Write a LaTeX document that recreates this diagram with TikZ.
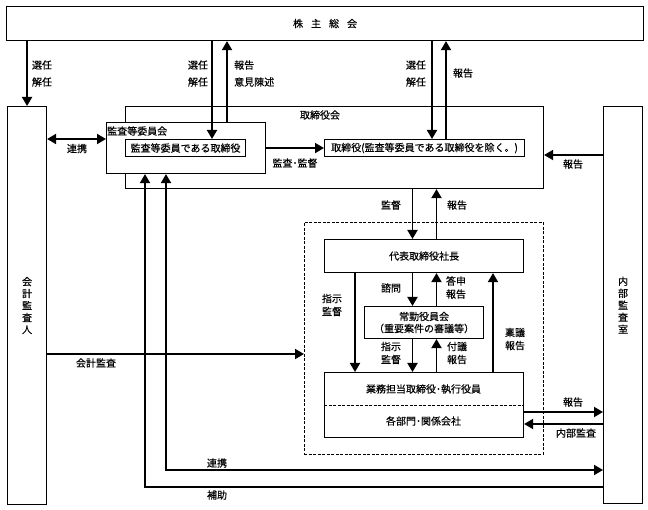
\documentclass[tikz,border=0pt]{standalone}
\usepackage{fontspec}
\setmainfont{Noto Sans CJK JP}[RawFeature={embolden=0.4}]
\usepackage{tikz}
\usetikzlibrary{arrows.meta,positioning,calc}

\begin{document}
\begin{tikzpicture}[x=1pt,y=-1pt,
    every node/.style={font=\fontsize{10}{12}\selectfont,inner sep=0pt},
    box/.style={draw,line width=1.1pt,anchor=north west,align=center},
    dbox/.style={draw,line width=0.9pt,dash pattern=on 3pt off 1.5pt,anchor=north west},
    arr/.style={-{Triangle[length=9pt,width=10pt]},line width=1.8pt},
    darr/.style={{Triangle[length=9pt,width=10pt]}-{Triangle[length=9pt,width=10pt]},line width=1.8pt},
    lbl/.style={font=\fontsize{10}{13}\selectfont,align=center},
    lbltop/.style={font=\fontsize{10}{17}\selectfont,align=left}]

  \useasboundingbox (0,0) rectangle (648,510);

  % boxes
  \node[box,minimum width=637pt,minimum height=34pt] (gm) at (6,6) {株\hspace{8pt}主\hspace{8pt}総\hspace{8pt}会};
  \node[box,minimum width=39pt,minimum height=398pt] (kaikei) at (7,106) {会\\計\\監\\査\\人};
  \node[box,minimum width=39pt,minimum height=397pt] (naibu) at (603,106) {内\\部\\監\\査\\室};
  \node[box,minimum width=418pt,minimum height=82pt] (board) at (125,106) {};
  \node (boardTitle) at (320,115) {取締役会};
  \node[box,fill=white,minimum width=159pt,minimum height=51pt] (kansaIin) at (106,122) {};
  \node[anchor=west] (kansaTitle) at (107,131) {監査等委員会};
  \node[box,minimum width=120pt,minimum height=17pt] (kansaTori) at (125,139) {監査等委員である取締役};
  \node[box,minimum width=200pt,minimum height=17pt] (tori) at (324,139) {取締役(監査等委員である取締役を除く。)};
  \node[dbox,minimum width=239pt,minimum height=232pt] (shikkou) at (304,222) {};
  \node[box,minimum width=199pt,minimum height=33pt] (daihyo) at (324,239) {代表取締役社長};
  \node[box,minimum width=119pt,minimum height=32pt] (joukin) at (364,306) {常勤役員会\\（重要案件の審議等）};
  \node[box,minimum width=199pt,minimum height=65pt] (gyomu) at (324,372) {};
  \node (gyomuTxt) at (423.5,389) {業務担当取締役･執行役員};
  \node (bumon) at (423.5,421) {各部門･関係会社};
  \draw[line width=0.9pt,dash pattern=on 3pt off 1.5pt]
    ($(gyomu.north west)+(0,33)$) -- ($(gyomu.north east)+(0,33)$);

  % labels
  \node[lbltop] (selA) at (42,73.5) {選任\\解任};
  \node[lbltop] (selB) at (198,73.5) {選任\\解任};
  \node[lbltop,anchor=west] (repA) at (234,73.5) {報告\\意見陳述};
  \node[lbltop] (selC) at (416,73.5) {選任\\解任};
  \node (repB) at (463,73) {報告};
  \node (renkeiA) at (77,148.5) {連携};
  \node (kansaLbl) at (295,163) {監査･監督};
  \node (repC) at (573,164) {報告};
  \node (kantokuLbl) at (391,205) {監督};
  \node (repD) at (457,205) {報告};
  \node (shimonLbl) at (391,288) {諮問};
  \node[lbl] (toushinLbl) at (456,287.5) {答申\\報告};
  \node[lbl] (shijiA) at (332,305) {指示\\監督};
  \node[lbl] (shijiB) at (391,353) {指示\\監督};
  \node[lbl] (fugiLbl) at (457,353) {付議\\報告};
  \node[lbl] (ringiLbl) at (515,339) {稟議\\報告};
  \node (repE) at (573,402) {報告};
  \node (naibuLbl) at (576,433) {内部監査};
  \node (kaikeiLbl) at (96,363) {会計監査};
  \node (renkeiB) at (217,463) {連携};
  \node (hojoLbl) at (217,495) {補助};

  % connector lanes
  \coordinate (xa) at (212,0);
  \coordinate (xb) at (227,0);
  \coordinate (xc) at (432,0);
  \coordinate (xd) at (446,0);
  \coordinate (xe) at (412.5,0);
  \coordinate (xf) at (436.5,0);
  \coordinate (xg) at (355,0);
  \coordinate (xh) at (493,0);
  \coordinate (xi) at (166,0);
  \coordinate (xj) at (145,0);
  \coordinate (ya) at (0,139);
  \coordinate (yb) at (0,155);
  \coordinate (yc) at (0,412);
  \coordinate (yd) at (0,424);
  \coordinate (ye) at (0,354);
  \coordinate (yf) at (0,470);
  \coordinate (yg) at (0,487);

  % connectors
  \draw[arr] (gm.south -| kaikei.north) -- (kaikei.north);
  \draw[arr] (gm.south -| xa) -- (kansaTori.north -| xa);
  \draw[arr] (kansaIin.north -| xb) -- (gm.south -| xb);
  \draw[arr] (gm.south -| xc) -- (tori.north -| xc);
  \draw[arr] (tori.north -| xd) -- (gm.south -| xd);
  \draw[darr] (kaikei.east |- ya) -- (kansaIin.west |- ya);
  \draw[arr] (kansaIin.east |- tori.west) -- (tori.west);
  \draw[arr] (naibu.west |- yb) -- (board.east |- yb);
  \draw[arr] (board.south -| xe) -- (daihyo.north -| xe);
  \draw[arr] (daihyo.north -| xf) -- (board.south -| xf);
  \draw[arr] (daihyo.south -| xe) -- (joukin.north -| xe);
  \draw[arr] (joukin.north -| xf) -- (daihyo.south -| xf);
  \draw[arr] (joukin.south -| xe) -- (gyomu.north -| xe);
  \draw[arr] (gyomu.north -| xf) -- (joukin.south -| xf);
  \draw[arr] (daihyo.south -| xg) -- (gyomu.north -| xg);
  \draw[arr] (gyomu.north -| xh) -- (daihyo.south -| xh);
  \draw[arr] (gyomu.east |- yc) -- (naibu.west |- yc);
  \draw[arr] (naibu.west |- yd) -- (gyomu.east |- yd);
  \draw[arr] (kaikei.east |- ye) -- (shikkou.west |- ye);
  \draw[darr] (kansaIin.south -| xi) |- (naibu.west |- yf);
  \draw[arr] (naibu.west |- yg) -| (kansaIin.south -| xj);
\end{tikzpicture}
\end{document}
